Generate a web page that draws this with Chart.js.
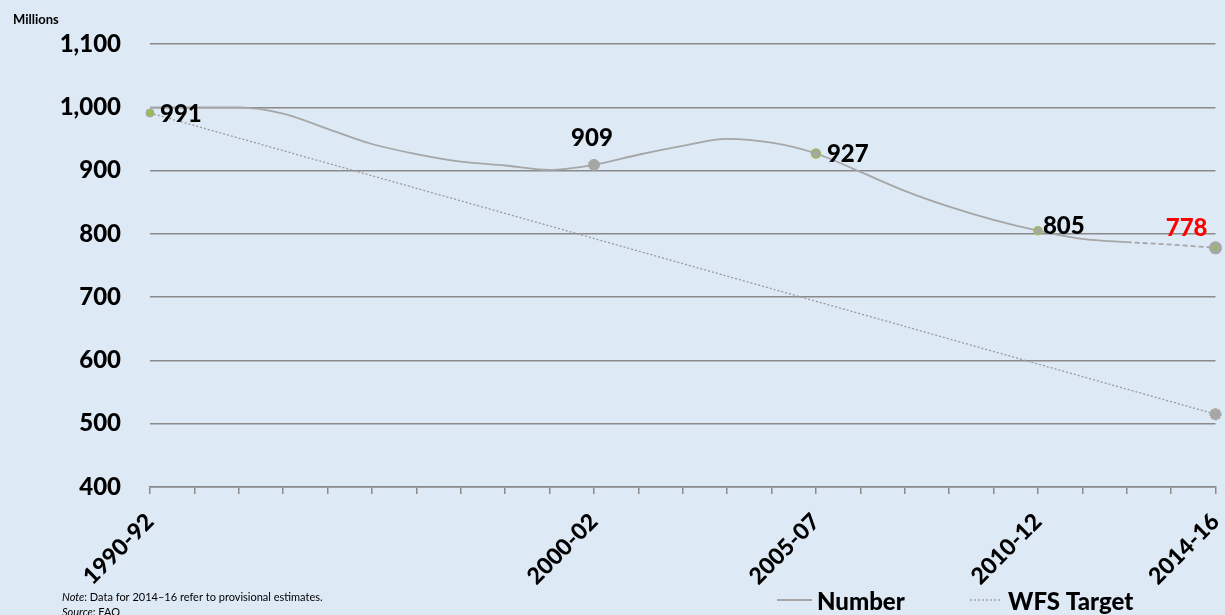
<!DOCTYPE html>
<html>
<head>
<meta charset="utf-8">
<title>Undernourished people</title>
<script src="https://cdn.jsdelivr.net/npm/chart.js@4"></script>
<style>
  html, body { margin: 0; padding: 0; background: #dde9f5; }
  #wrap { width: 1225px; height: 615px; }
</style>
</head>
<body>
<div id="wrap"><canvas id="chart" width="1225" height="615"></canvas></div>
<script>
// Three-year periods on the x axis
const periods = [
    '1990-92', '1991-93', '1992-94', '1993-95', '1994-96', '1995-97', '1996-98',
    '1997-99', '1998-00', '1999-01', '2000-02', '2001-03', '2002-04', '2003-05',
    '2004-06', '2005-07', '2006-08', '2007-09', '2008-10', '2009-11', '2010-12',
    '2011-13', '2012-14', '2013-15', '2014-16'
];

// Number of undernourished people (millions), one value per period
const numberValues = [
    1000, 1000, 1000, 990, 966, 942, 926, 914, 908, 901, 909, 925, 939,
    950, 944, 927, 898, 868, 843, 822, 805, 792, 787, 783, 778
];

// Labelled estimates (these periods are also the only x tick labels shown)
const keyPeriods = ['1990-92', '2000-02', '2005-07', '2010-12', '2014-16'];
const keyValues = [991, 909, 927, 805, 778];

// World Food Summit target line
const targetPeriods = ['1990-92', '2014-16'];
const targetValues = [991, 515];

// Y axis range
const yMin = 400;
const yMax = 1100;
const yStep = 100;

// Colours
const BG = '#dde9f5';
const GREY = '#a6a6a6';
const GREEN = '#9bbb59';
const GRID = '#8a8a8a';
const FONT = 'Lato, "Open Sans", sans-serif';

// Where each value label sits relative to its marker
const labelPlacement = [
    { dx: 10, dy: 1, align: 'left' },
    { dx: -2, dy: -27, align: 'center' },
    { dx: 11, dy: 1, align: 'left' },
    { dx: 5, dy: -4, align: 'left' },
    { dx: -8, dy: -20, align: 'right' }
];
const labelColors = ['#000', '#000', '#000', '#000', '#ff0000'];

/**
 * Canvas background, legend, unit caption and notes
 */
const decorations = {
    id: 'decorations',
    beforeDraw(chart) {
        const c = chart.ctx;
        c.save();
        c.fillStyle = BG;
        c.fillRect(0, 0, chart.width, chart.height);
        c.restore();
    },
    afterDraw(chart) {
        const c = chart.ctx;
        c.save();
        c.fillStyle = '#000';
        c.textBaseline = 'alphabetic';

        // unit caption
        c.font = `bold 13px ${FONT}`;
        c.fillText('Millions', 13, 24);

        // legend
        c.strokeStyle = GREY;
        c.lineWidth = 1.8;
        c.beginPath();
        c.moveTo(777, 600);
        c.lineTo(812, 600);
        c.stroke();
        c.strokeStyle = '#9a9a9a';
        c.lineWidth = 1.3;
        c.setLineDash([2, 2]);
        c.beginPath();
        c.moveTo(970, 600);
        c.lineTo(1002, 600);
        c.stroke();
        c.setLineDash([]);
        c.font = `900 24px ${FONT}`;
        c.fillText('Number', 817, 610);
        c.fillText('WFS Target', 1008, 610);

        // notes
        c.font = `italic 11px ${FONT}`;
        c.fillText('Note', 62, 601);
        let w = c.measureText('Note').width;
        c.font = `11px ${FONT}`;
        c.fillText(': Data for 2014\u201316 refer to provisional estimates.', 62 + w, 601);
        c.font = `italic 11px ${FONT}`;
        c.fillText('Source', 62, 616);
        w = c.measureText('Source').width;
        c.font = `11px ${FONT}`;
        c.fillText(': FAO', 62 + w, 616);
        c.restore();
    }
};

/**
 * Value labels next to the marked estimates
 */
const valueLabels = {
    id: 'valueLabels',
    afterDatasetsDraw(chart) {
        const c = chart.ctx;
        const meta = chart.getDatasetMeta(0);
        c.save();
        c.font = `900 24px ${FONT}`;
        c.textBaseline = 'middle';
        meta.data.forEach((pt, i) => {
            const p = labelPlacement[i];
            c.textAlign = p.align;
            c.fillStyle = labelColors[i];
            c.fillText(String(keyValues[i]), pt.x + p.dx, pt.y + p.dy);
        });
        c.restore();
    }
};

const ctx = document.getElementById('chart').getContext('2d');

new Chart(ctx, {
    type: 'line',
    data: {
        labels: periods,
        datasets: [
            {
                label: 'Estimates',
                data: keyPeriods.map((p, i) => ({ x: p, y: keyValues[i] })),
                showLine: false,
                pointRadius: [4, 5.5, 4.5, 4, 4.5],
                pointBackgroundColor: [GREEN, GREY, GREY, GREY, GREEN],
                pointBorderColor: [GREY, GREY, GREEN, GREEN, GREY],
                pointBorderWidth: [1, 1, 1.5, 1.5, 4]
            },
            {
                label: 'Number',
                data: numberValues,
                borderColor: GREY,
                borderWidth: 1.8,
                pointRadius: 0,
                cubicInterpolationMode: 'monotone',
                segment: {
                    borderDash: s => (s.p0DataIndex >= 22 ? [5, 3] : undefined)
                }
            },
            {
                label: 'WFS Target',
                data: targetPeriods.map((p, i) => ({ x: p, y: targetValues[i] })),
                borderColor: '#9a9a9a',
                borderWidth: 1.3,
                borderDash: [2, 2],
                pointStyle: 'star',
                pointRadius: [0, 6],
                pointBorderColor: GREY,
                pointBackgroundColor: GREY,
                pointBorderWidth: 3.5
            }
        ]
    },
    options: {
        responsive: false,
        animation: false,
        layout: { padding: { top: 44, right: 8, left: 0, bottom: 0 } },
        plugins: {
            legend: { display: false },
            tooltip: { enabled: false }
        },
        scales: {
            x: {
                offset: false,
                grid: {
                    drawOnChartArea: false,
                    drawTicks: true,
                    tickLength: 7,
                    color: GRID,
                    lineWidth: 1.5
                },
                border: { color: GRID, width: 1.5 },
                ticks: {
                    autoSkip: false,
                    maxRotation: 45,
                    minRotation: 45,
                    padding: 14,
                    color: '#000',
                    font: { family: FONT, weight: '900', size: 23 },
                    callback: function(value, index) {
                        const label = periods[index];
                        return keyPeriods.includes(label) ? label : '';
                    }
                },
                afterFit: function(scale) {
                    scale.height = 128;
                    scale.paddingLeft = 0;
                    scale.paddingRight = 0;
                }
            },
            y: {
                min: yMin,
                max: yMax,
                ticks: {
                    stepSize: yStep,
                    padding: 29,
                    color: '#000',
                    font: { family: FONT, weight: '900', size: 24 },
                    callback: value => value.toLocaleString('en-US')
                },
                grid: { color: GRID, lineWidth: 1.5, drawTicks: false },
                border: { display: false },
                afterFit: function(scale) {
                    scale.width = 150;
                }
            }
        }
    },
    plugins: [decorations, valueLabels]
});
</script>
</body>
</html>
